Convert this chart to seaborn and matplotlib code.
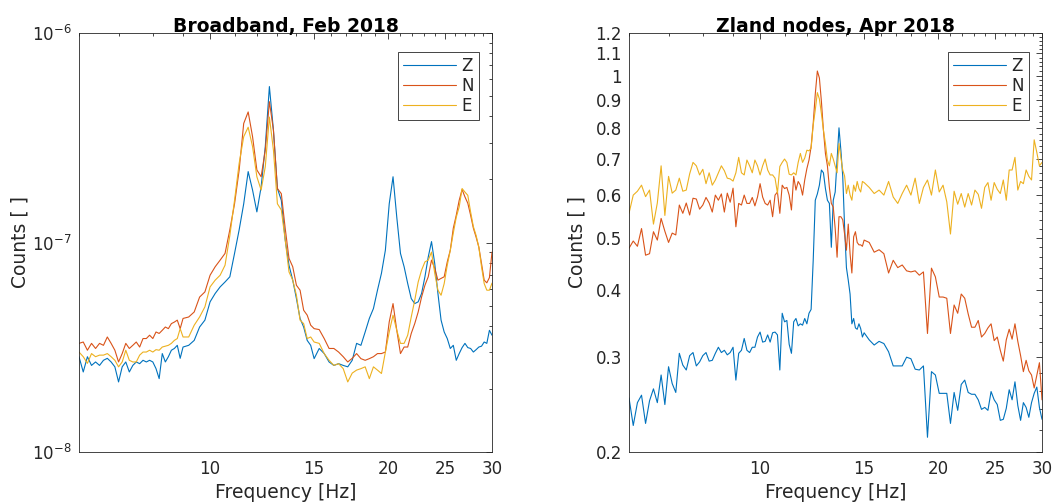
import numpy as np
import pandas as pd
import seaborn as sns
import matplotlib.pyplot as plt
from matplotlib import ticker

# ---- data (frequency in Hz) ----
components = ['Z', 'N', 'E']

# Broadband, Feb 2018 (values in units of 1e-8)
BB_UNIT = 1e-8
freq_bb = [6.0, 6.1, 6.2, 6.3, 6.4, 6.5, 6.6, 6.7, 6.8, 6.9,
           7.0, 7.1, 7.2, 7.3, 7.4, 7.5, 7.6, 7.7, 7.8, 7.9,
           8.0, 8.1, 8.2, 8.3, 8.4, 8.5, 8.6, 8.7, 8.8, 8.9, 9.0,
           9.2, 9.4, 9.6, 9.8, 10.0, 10.2, 10.4, 10.6, 10.8, 11.0,
           11.2, 11.4, 11.6, 11.8, 12.0, 12.2, 12.4, 12.6, 12.8, 13.0,
           13.2, 13.4, 13.6, 13.8, 14.0, 14.2, 14.4, 14.6, 14.8, 15.0,
           15.3, 15.6, 15.9, 16.2, 16.5, 16.8, 17.1, 17.4, 17.7, 18.0,
           18.3, 18.6, 18.9, 19.2, 19.5, 19.8, 20.1, 20.4, 20.7, 21.0,
           21.3, 21.6, 21.9, 22.2, 22.5, 22.8, 23.1, 23.4, 23.7, 24.0,
           24.3, 24.6, 24.9, 25.2, 25.5, 25.8, 26.1, 26.4, 26.7, 27.0,
           27.3, 27.6, 27.9, 28.2, 28.5, 28.8, 29.1, 29.4, 29.7, 30.0]
z_bb = [2.85, 2.41, 2.85, 2.59, 2.69, 2.59, 2.74, 2.80, 2.69, 2.55,
        2.16, 2.55, 2.69, 2.41, 2.59, 2.69, 2.64, 2.74, 2.69, 2.74,
        2.69, 2.50, 2.24, 2.95, 2.69, 2.85, 3.06, 3.12, 3.23, 2.80, 3.17,
        3.23, 3.41, 3.95, 4.26, 5.21, 5.71, 6.14, 6.48, 6.86, 8.87,
        11.5, 15.3, 21.8, 17.8, 14.0, 18.4, 28.7, 55.5, 34.4, 18.1,
        15.9, 10.3, 7.79, 6.61, 5.40, 4.34, 3.95, 3.41, 3.23, 2.79,
        3.12, 2.95, 2.69, 2.59, 2.64, 2.59, 2.55, 2.74, 3.30, 3.23,
        3.74, 4.34, 4.84, 5.92, 7.13, 9.19, 15.3, 20.6, 13.2, 8.87,
        7.66, 6.37, 5.40, 5.11, 5.21, 5.71, 6.86, 8.53, 10.1, 7.93,
        5.71, 4.26, 3.74, 3.48, 3.12, 3.23, 2.74, 2.95, 3.15, 3.30,
        3.15, 3.12, 3.00, 3.08, 3.17, 3.20, 3.35, 3.30, 3.81, 3.61]
n_bb = [3.30, 3.35, 3.06, 3.30, 3.12, 3.30, 3.23, 3.54, 3.30, 3.06,
        2.69, 2.95, 3.30, 3.12, 3.23, 3.35, 3.17, 3.48, 3.48, 3.61,
        3.48, 3.74, 3.68, 3.81, 3.95, 3.88, 4.10, 4.17, 4.26, 3.88, 4.34,
        4.41, 4.66, 5.49, 5.81, 6.98, 7.66, 8.24, 8.87, 11.5, 15.3,
        22.2, 37.0, 42.0, 32.0, 22.2, 20.6, 27.6, 47.0, 34.4, 18.1,
        17.1, 11.7, 8.40, 7.66, 6.25, 5.92, 4.75, 4.50, 4.03, 3.88,
        3.84, 3.48, 3.12, 3.12, 3.00, 2.85, 2.69, 2.80, 2.95, 2.79,
        2.74, 2.79, 2.85, 2.95, 2.95, 3.00, 4.18, 5.11, 3.81, 2.95,
        3.17, 3.17, 3.68, 4.10, 4.66, 5.49, 6.25, 6.86, 8.24, 7.52,
        6.61, 6.74, 6.86, 8.08, 9.19, 11.7, 13.5, 15.9, 17.9, 16.5,
        15.4, 13.5, 11.7, 10.6, 9.50, 7.93, 6.61, 6.42, 6.80, 9.00]
e_bb = [3.00, 2.85, 2.65, 2.95, 2.85, 2.90, 2.90, 2.95, 2.85, 2.74,
        2.55, 2.69, 3.06, 2.74, 2.69, 2.69, 2.90, 3.00, 3.00, 3.06,
        3.00, 3.08, 3.06, 3.17, 3.20, 3.23, 3.30, 3.41, 3.48, 3.88, 3.54,
        3.54, 4.03, 4.41, 4.93, 6.14, 6.61, 6.98, 7.79, 10.8, 15.9,
        23.9, 32.0, 35.5, 28.7, 20.6, 17.8, 23.0, 39.7, 27.6, 15.3,
        14.3, 10.3, 7.24, 6.61, 5.60, 4.26, 4.10, 3.48, 3.54, 3.35,
        3.30, 2.95, 2.74, 2.59, 2.64, 2.50, 2.16, 2.38, 2.46, 2.50,
        2.55, 2.24, 2.55, 2.46, 2.37, 3.00, 3.74, 4.50, 3.81, 3.30,
        3.30, 3.61, 4.41, 5.30, 6.48, 7.38, 8.08, 8.24, 9.00, 7.13,
        5.92, 5.60, 6.37, 7.79, 9.19, 11.1, 13.2, 14.8, 18.1, 17.4,
        16.8, 14.0, 11.9, 10.8, 9.50, 7.66, 6.37, 5.92, 5.92, 6.40]

# Zland nodes, Apr 2018
freq_zl = [6.0, 6.1, 6.2, 6.3, 6.4, 6.5, 6.6, 6.7, 6.8, 6.9,
           7.0, 7.1, 7.2, 7.3, 7.4, 7.5, 7.6, 7.7, 7.8, 7.9,
           8.0, 8.1, 8.2, 8.3, 8.4, 8.5, 8.6, 8.7, 8.8, 8.9, 9.0,
           9.1, 9.2, 9.3, 9.4, 9.5, 9.6, 9.7, 9.8, 9.9, 10.0,
           10.1, 10.2, 10.3, 10.4, 10.5, 10.6, 10.7, 10.8, 10.9, 11.0,
           11.1, 11.2, 11.3, 11.4, 11.5, 11.6, 11.7, 11.8, 11.9, 12.0,
           12.1, 12.2, 12.3, 12.4, 12.5, 12.6, 12.7, 12.8, 12.9, 13.0,
           13.1, 13.2, 13.3, 13.4, 13.5, 13.6, 13.7, 13.8, 13.9, 14.0,
           14.1, 14.2, 14.3, 14.4, 14.5, 14.6, 14.7, 14.8, 14.9, 15.0,
           15.3, 15.6, 15.9, 16.2, 16.5, 16.8, 17.1, 17.4, 17.7, 18.0,
           18.3, 18.6, 18.9, 19.2, 19.5, 19.8, 20.1, 20.4, 20.7, 21.0,
           21.3, 21.6, 21.9, 22.2, 22.5, 22.8, 23.1, 23.4, 23.7, 24.0,
           24.3, 24.6, 24.9, 25.2, 25.5, 25.8, 26.1, 26.4, 26.7, 27.0,
           27.3, 27.6, 27.9, 28.2, 28.5, 28.8, 29.1, 29.4, 29.7, 30.0]
z_zl = [0.252, 0.224, 0.247, 0.255, 0.226, 0.249, 0.262, 0.247, 0.278, 0.245,
        0.288, 0.268, 0.258, 0.305, 0.290, 0.284, 0.302, 0.306, 0.289, 0.294,
        0.302, 0.306, 0.295, 0.296, 0.305, 0.313, 0.306, 0.309, 0.303, 0.306, 0.313,
        0.272, 0.305, 0.309, 0.325, 0.309, 0.306, 0.313, 0.313, 0.327, 0.334,
        0.320, 0.321, 0.330, 0.320, 0.333, 0.334, 0.330, 0.284, 0.362, 0.349,
        0.351, 0.317, 0.305, 0.349, 0.354, 0.343, 0.346, 0.344, 0.354, 0.346,
        0.362, 0.368, 0.454, 0.587, 0.603, 0.626, 0.668, 0.660, 0.617, 0.587,
        0.579, 0.480, 0.587, 0.608, 0.697, 0.800, 0.727, 0.650, 0.524, 0.440,
        0.417, 0.393, 0.346, 0.354, 0.340, 0.338, 0.346, 0.339, 0.327, 0.333,
        0.323, 0.316, 0.321, 0.318, 0.307, 0.289, 0.289, 0.289, 0.300, 0.298,
        0.285, 0.284, 0.289, 0.213, 0.282, 0.278, 0.257, 0.257, 0.257, 0.226,
        0.258, 0.239, 0.267, 0.272, 0.258, 0.256, 0.256, 0.250, 0.240, 0.242,
        0.239, 0.259, 0.250, 0.245, 0.229, 0.230, 0.241, 0.261, 0.250, 0.270,
        0.244, 0.229, 0.247, 0.242, 0.232, 0.247, 0.257, 0.264, 0.242, 0.230]
n_zl = [0.478, 0.493, 0.482, 0.520, 0.464, 0.467, 0.513, 0.495, 0.543, 0.514,
        0.490, 0.510, 0.506, 0.575, 0.555, 0.580, 0.551, 0.592, 0.590, 0.565,
        0.575, 0.594, 0.580, 0.558, 0.600, 0.587, 0.603, 0.558, 0.605, 0.582, 0.618,
        0.524, 0.579, 0.575, 0.600, 0.579, 0.579, 0.594, 0.573, 0.595, 0.630,
        0.595, 0.579, 0.575, 0.587, 0.547, 0.600, 0.608, 0.555, 0.626, 0.617,
        0.620, 0.600, 0.563, 0.650, 0.613, 0.636, 0.626, 0.600, 0.640, 0.672,
        0.697, 0.738, 0.815, 0.925, 1.020, 0.990, 0.895, 0.792, 0.717, 0.680,
        0.620, 0.579, 0.570, 0.520, 0.460, 0.547, 0.547, 0.540, 0.508, 0.474,
        0.530, 0.467, 0.430, 0.502, 0.513, 0.490, 0.485, 0.485, 0.482, 0.495,
        0.490, 0.470, 0.475, 0.467, 0.430, 0.454, 0.440, 0.445, 0.434, 0.432,
        0.434, 0.426, 0.432, 0.332, 0.439, 0.423, 0.388, 0.388, 0.386, 0.332,
        0.375, 0.362, 0.393, 0.386, 0.361, 0.341, 0.341, 0.351, 0.327, 0.332,
        0.340, 0.346, 0.322, 0.327, 0.309, 0.295, 0.323, 0.338, 0.324, 0.346,
        0.321, 0.302, 0.282, 0.296, 0.283, 0.278, 0.263, 0.278, 0.293, 0.250]
e_zl = [0.555, 0.600, 0.610, 0.626, 0.596, 0.613, 0.530, 0.580, 0.680, 0.550,
        0.650, 0.605, 0.613, 0.645, 0.610, 0.613, 0.657, 0.690, 0.680, 0.654,
        0.670, 0.630, 0.660, 0.626, 0.640, 0.660, 0.680, 0.666, 0.645, 0.643, 0.637,
        0.660, 0.705, 0.660, 0.654, 0.697, 0.680, 0.660, 0.697, 0.680, 0.654,
        0.680, 0.700, 0.668, 0.654, 0.654, 0.645, 0.605, 0.678, 0.690, 0.700,
        0.690, 0.656, 0.654, 0.660, 0.654, 0.690, 0.717, 0.690, 0.703, 0.727,
        0.725, 0.733, 0.810, 0.864, 0.930, 0.905, 0.850, 0.792, 0.748, 0.697,
        0.680, 0.717, 0.700, 0.680, 0.660, 0.748, 0.705, 0.668, 0.651, 0.604,
        0.626, 0.600, 0.587, 0.626, 0.610, 0.636, 0.617, 0.608, 0.636, 0.633,
        0.620, 0.604, 0.613, 0.600, 0.636, 0.595, 0.579, 0.604, 0.626, 0.600,
        0.645, 0.579, 0.620, 0.640, 0.600, 0.668, 0.608, 0.626, 0.583, 0.508,
        0.610, 0.577, 0.604, 0.570, 0.604, 0.575, 0.613, 0.602, 0.567, 0.620,
        0.633, 0.587, 0.633, 0.615, 0.604, 0.640, 0.587, 0.668, 0.668, 0.705,
        0.613, 0.636, 0.630, 0.668, 0.650, 0.640, 0.760, 0.720, 0.680, 0.690]

x_major = [10, 15, 20, 25, 30]
zl_yticks = [0.2, 0.3, 0.4, 0.5, 0.6, 0.7, 0.8, 0.9, 1.0, 1.1, 1.2]
zl_ylabels = ['0.2', '0.3', '0.4', '0.5', '0.6', '0.7', '0.8', '0.9', '1', '1.1', '1.2']

palette = {'Z': '#0072BD', 'N': '#D95319', 'E': '#EDB120'}
AX_COLOR = '#262626'


def long_df(freq, series):
    parts = []
    for comp, vals in zip(components, series):
        parts.append(pd.DataFrame({'Frequency': freq, 'Counts': vals, 'Component': comp}))
    return pd.concat(parts, ignore_index=True)


def style_axes(ax, title, ylabel_x):
    ax.set_xscale('log')
    ax.set_yscale('log')
    ax.set_xlim(6, 30)
    ax.set_xticks(x_major)
    ax.set_xticklabels([str(v) for v in x_major])
    ax.xaxis.set_minor_locator(ticker.FixedLocator([v for v in range(6, 31) if v not in x_major]))
    ax.xaxis.set_minor_formatter(ticker.NullFormatter())

    ax.tick_params(which='both', direction='in', top=True, right=True,
                   colors=AX_COLOR, labelsize=12, width=0.6)
    ax.tick_params(which='major', length=4)
    ax.tick_params(which='minor', length=2.2)
    ax.tick_params(axis='x', pad=6)
    ax.tick_params(axis='y', pad=5)
    for sp in ax.spines.values():
        sp.set_visible(True)
        sp.set_color(AX_COLOR)
        sp.set_linewidth(0.6)

    ax.set_title(title, fontsize=13.5, fontweight='bold', pad=1, color='black')
    ax.set_xlabel('Frequency [Hz]', fontsize=13.5, color=AX_COLOR)
    ax.set_ylabel('Counts [ ]', fontsize=13.5, color=AX_COLOR)
    ax.xaxis.set_label_coords(0.5, -0.074)
    ax.yaxis.set_label_coords(ylabel_x, 0.5)
    ax.grid(False)

    handles, labels = ax.get_legend_handles_labels()
    leg = ax.legend(handles, labels, loc='upper right', bbox_to_anchor=(0.9685, 0.9547),
                    borderaxespad=0, fontsize=12, handlelength=3.2, handletextpad=0.3,
                    labelspacing=0.12, borderpad=0.3, frameon=True, fancybox=False,
                    edgecolor=AX_COLOR, framealpha=1)
    leg.get_frame().set_linewidth(0.6)
    for line in leg.get_lines():
        line.set_linewidth(0.8)


def main():
    sns.set_theme(style='white')
    plt.rcParams['font.family'] = ['DejaVu Sans']
    plt.rcParams['mathtext.default'] = 'regular'

    df_bb = long_df(freq_bb, [np.array(z_bb) * BB_UNIT, np.array(n_bb) * BB_UNIT,
                              np.array(e_bb) * BB_UNIT])
    df_zl = long_df(freq_zl, [z_zl, n_zl, e_zl])

    fig = plt.figure(figsize=(10.58, 5.04), dpi=100)
    ax_bb = fig.add_axes([79 / 1058, 52 / 504, 413 / 1058, 419 / 504])
    ax_zl = fig.add_axes([629 / 1058, 52 / 504, 413 / 1058, 419 / 504])

    # Broadband panel
    sns.lineplot(data=df_bb, x='Frequency', y='Counts', hue='Component', hue_order=components,
                 palette=palette, linewidth=0.8, estimator=None, sort=False, ax=ax_bb)
    style_axes(ax_bb, 'Broadband, Feb 2018', -0.121)
    ax_bb.set_ylim(1e-8, 1e-6)
    ax_bb.yaxis.set_major_locator(ticker.LogLocator(base=10))
    ax_bb.yaxis.set_minor_locator(ticker.LogLocator(base=10, subs=np.arange(2, 10)))
    ax_bb.yaxis.set_minor_formatter(ticker.NullFormatter())

    # Zland nodes panel
    sns.lineplot(data=df_zl, x='Frequency', y='Counts', hue='Component', hue_order=components,
                 palette=palette, linewidth=0.8, estimator=None, sort=False, ax=ax_zl)
    style_axes(ax_zl, 'Zland nodes, Apr 2018', -0.102)
    ax_zl.set_ylim(0.2, 1.2)
    ax_zl.yaxis.set_major_locator(ticker.FixedLocator(zl_yticks))
    ax_zl.yaxis.set_major_formatter(ticker.FixedFormatter(zl_ylabels))
    minor_y = [round(0.2 + 0.02 * i, 2) for i in range(51)]
    minor_y = [v for v in minor_y if min(abs(v - t) for t in zl_yticks) > 1e-6]
    ax_zl.yaxis.set_minor_locator(ticker.FixedLocator(minor_y))
    ax_zl.yaxis.set_minor_formatter(ticker.NullFormatter())

    fig.savefig('out.png', dpi=100)


if __name__ == '__main__':
    main()
